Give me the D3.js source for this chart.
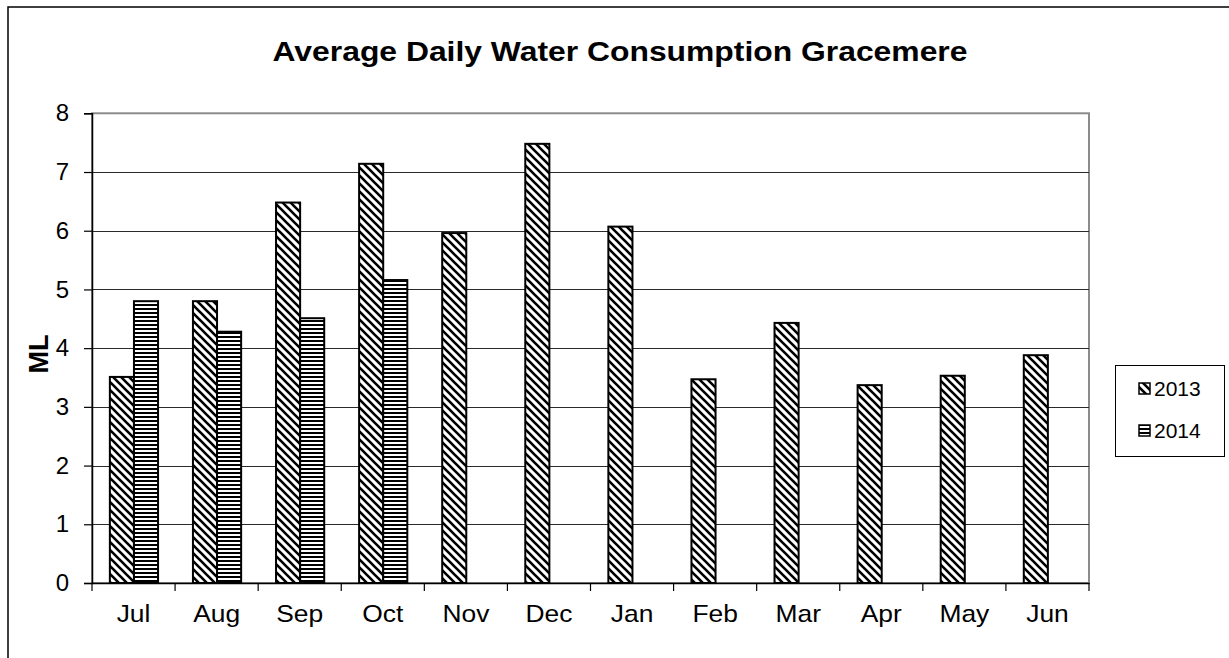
<!DOCTYPE html>
<html>
<head>
<meta charset="utf-8">
<script src="https://cdn.jsdelivr.net/npm/d3@7"></script>
<style>
  html, body { margin: 0; padding: 0; background: #fff; }
  svg { display: block; }
  text { font-family: "Liberation Sans", Arial, sans-serif; fill: #000; }
</style>
</head>
<body>
<svg id="chart" width="1229" height="658"></svg>
<script>
const months = ["Jul","Aug","Sep","Oct","Nov","Dec","Jan","Feb","Mar","Apr","May","Jun"];
const seriesNames = ["2013","2014"];
const values2013 = [3.51, 4.80, 6.48, 7.14, 5.96, 7.48, 6.07, 3.47, 4.43, 3.37, 3.53, 3.88];
const values2014 = [4.80, 4.28, 4.51, 5.16, null, null, null, null, null, null, null, null];
const yTicks = [0,1,2,3,4,5,6,7,8];
const titleText = "Average Daily Water Consumption Gracemere";
const yLabel = "ML";

const svg = d3.select("#chart");
const plot = {left: 92, right: 1089, top: 113.3, bottom: 583};

// patterns
const defs = svg.append("defs");
const pDiag = defs.append("pattern").attr("id","diag").attr("patternUnits","userSpaceOnUse")
  .attr("width",8).attr("height",8);
pDiag.append("rect").attr("width",8).attr("height",8).attr("fill","#fff");
pDiag.append("path").attr("d","M-2,-2L10,10M-2,6L2,10M6,-2L10,2")
  .attr("stroke","#000").attr("stroke-width",2.6);
const pHor = defs.append("pattern").attr("id","hor").attr("patternUnits","userSpaceOnUse")
  .attr("width",4).attr("height",4);
pHor.append("rect").attr("width",4).attr("height",4).attr("fill","#fff");
pHor.append("rect").attr("y",0).attr("width",4).attr("height",2).attr("fill","#000");
const fills = {"2013":"url(#diag)","2014":"url(#hor)"};

// outer border
svg.append("rect").attr("x",8).attr("y",7).attr("width",1400).attr("height",800)
  .attr("fill","#fff").attr("stroke","#000").attr("stroke-width",1.5);

const x0 = d3.scaleBand().domain(months).range([plot.left, plot.right]).padding(0);
const bw = x0.bandwidth();
const x1 = d3.scaleBand().domain(seriesNames).range([bw*0.215, bw*0.795]).padding(0);
const y = d3.scaleLinear().domain([0,8]).range([plot.bottom, plot.top]);

// plot area border (gray)
svg.append("rect").attr("x",plot.left).attr("y",y(8)).attr("width",plot.right-plot.left)
  .attr("height",plot.bottom-y(8)).attr("fill","none").attr("stroke","#8c8c8c").attr("stroke-width",2);

// gridlines
svg.append("g").selectAll("line").data(yTicks.filter(d=>d>0 && d<8)).join("line")
  .attr("x1",plot.left).attr("x2",plot.right)
  .attr("y1",d=>Math.round(y(d))+0.5).attr("y2",d=>Math.round(y(d))+0.5)
  .attr("stroke","#2a2a2a").attr("stroke-width",1);

// bars
const data = [];
months.forEach((m,i)=>{
  data.push({m, s:"2013", v:values2013[i]});
  if (values2014[i] != null) data.push({m, s:"2014", v:values2014[i]});
});
svg.append("g").selectAll("rect").data(data).join("rect")
  .attr("x",d=>x0(d.m)+x1(d.s))
  .attr("y",d=>y(d.v))
  .attr("width",x1.bandwidth())
  .attr("height",d=>y(0)-y(d.v))
  .attr("fill",d=>fills[d.s])
  .attr("stroke","#000").attr("stroke-width",2);

// y axis
const yAxis = d3.axisLeft(y).tickValues(yTicks).tickSize(8).tickPadding(15).tickFormat(d3.format("d"));
const gy = svg.append("g").attr("transform",`translate(${plot.left},0)`).call(yAxis);
gy.select(".domain").attr("stroke","#000").attr("stroke-width",1.5);
gy.selectAll(".tick line").attr("stroke","#000").attr("stroke-width",1.2);
gy.selectAll(".tick text").attr("font-size",24).attr("font-family","'Liberation Sans', Arial, sans-serif").attr("fill","#000");

// x axis
const xAxis = d3.axisBottom(x0).tickSize(0).tickPadding(22);
const gx = svg.append("g").attr("transform",`translate(0,${plot.bottom})`).call(xAxis);
gx.select(".domain").attr("stroke","#000").attr("stroke-width",1.5);
gx.selectAll(".tick text").attr("font-size",24).attr("font-family","'Liberation Sans', Arial, sans-serif")
  .attr("fill","#000").attr("transform","scale(1.1,1)");
// category boundary ticks
const bounds = months.map(m=>x0(m)).concat([plot.right]);
gx.append("g").selectAll("line").data(bounds).join("line")
  .attr("x1",d=>d).attr("x2",d=>d).attr("y1",0).attr("y2",8)
  .attr("stroke","#000").attr("stroke-width",1.2);

// title
svg.append("text").attr("transform","translate(620,61) scale(1.18,1)").attr("text-anchor","middle")
  .attr("font-size",27).attr("font-weight","bold").text(titleText);

// y label
svg.append("text").attr("transform","translate(48,354) rotate(-90)").attr("text-anchor","middle")
  .attr("font-size",27).attr("font-weight","bold").text(yLabel);

// legend
const lg = svg.append("g");
lg.append("rect").attr("x",1115.5).attr("y",365.5).attr("width",109).attr("height",91)
  .attr("fill","#fff").attr("stroke","#000").attr("stroke-width",1);
const legY = [383, 425];
seriesNames.forEach((s,i)=>{
  lg.append("rect").attr("x",1139).attr("y",legY[i]).attr("width",11).attr("height",11)
    .attr("fill",fills[s]).attr("stroke","#000").attr("stroke-width",1.5);
  lg.append("text").attr("x",1154).attr("y",legY[i]+13).attr("font-size",21).text(s);
});
</script>
</body>
</html>
